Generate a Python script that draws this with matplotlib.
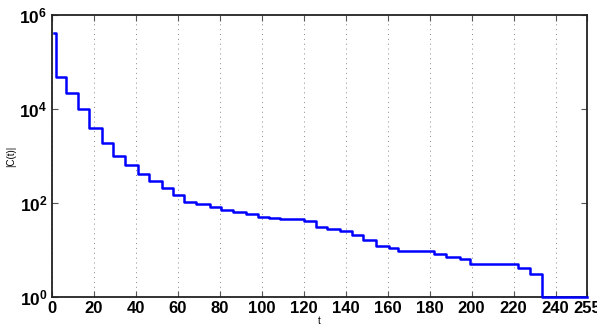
import matplotlib.pyplot as plt

# step breakpoints (t where a new level starts)
t_steps = [1, 2, 7, 12.5, 18, 24, 29.5, 35, 41, 46.5, 52.5, 58, 63, 69, 75.5,
           80.5, 86.5, 92.5, 98.5, 103.5, 109, 120, 126, 131, 137.5, 143,
           148.5, 154.5, 160.5, 165, 182, 188, 194.5, 199.5, 222, 228, 233.5, 255]
c_levels = [4.2e5, 4.9e4, 2.2e4, 9.8e3, 4.0e3, 1.9e3, 1.0e3, 640, 410, 290,
            206, 146, 103, 94, 81, 72, 63, 57, 51, 49, 44.6, 41.5, 31, 28, 25,
            21, 16, 12, 11.3, 9.4, 8.1, 7.0, 6.3, 5.0, 4.1, 3.05, 1, 1]

x_ticks = [0, 20, 40, 60, 80, 100, 120, 140, 160, 180, 200, 220, 240, 255]
y_ticks = [1, 1e2, 1e4, 1e6]
y_labels = [r"$10^{0}$", r"$10^{2}$", r"$10^{4}$", r"$10^{6}$"]

plt.rcParams["font.family"] = ["Liberation Sans", "DejaVu Sans"]
plt.rcParams["mathtext.fontset"] = "custom"
plt.rcParams["mathtext.rm"] = "Liberation Sans:bold"
plt.rcParams["mathtext.it"] = "Liberation Sans:bold"
plt.rcParams["mathtext.bf"] = "Liberation Sans:bold"

fig = plt.figure(figsize=(5.97, 3.30), dpi=100)
ax = fig.add_axes([0.0863, 0.10, 0.897, 0.8545])

ax.plot(t_steps, c_levels, color="#0000ff", linewidth=1.8,
        drawstyle="steps-post", clip_on=False, zorder=5)

ax.set_yscale("log")
ax.set_xlim(0, 255)
ax.set_ylim(1, 1e6)
ax.set_xticks(x_ticks)
ax.set_xticklabels([str(v) for v in x_ticks], fontweight="bold", fontsize=12)
ax.set_yticks(y_ticks)
ax.set_yticklabels(y_labels, fontsize=12.5)
ax.minorticks_off()

ax.tick_params(direction="in", length=4, color="#555555", top=True, right=True, pad=3)
ax.grid(axis="x", linestyle=(0, (1, 4)), color="#888888", linewidth=0.7)

for s in ax.spines.values():
    s.set_color("#222222")
    s.set_linewidth(1.3)

ax.set_xlabel("t", fontsize=7, labelpad=0)
ax.set_ylabel("|C(t)|", fontsize=7, labelpad=2)

fig.savefig("out.png", dpi=100)
